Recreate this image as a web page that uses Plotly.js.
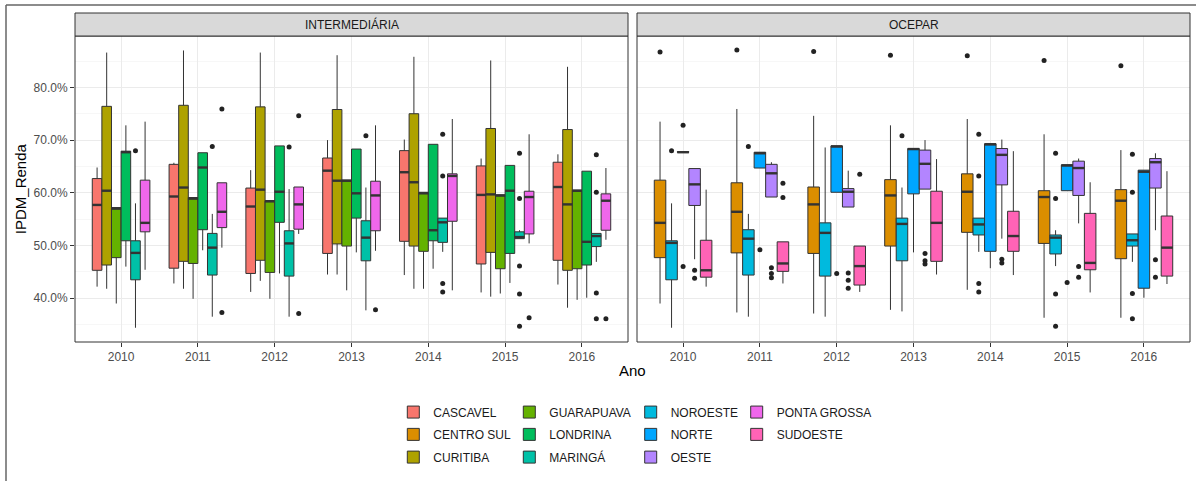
<!DOCTYPE html>
<html>
<head>
<meta charset="utf-8">
<script src="https://cdn.plot.ly/plotly-3.0.1.min.js"></script>
<style>html,body{margin:0;padding:0;background:#fff;}#chart{width:1196px;height:481px;}</style>
</head>
<body>
<div id="chart"></div>
<script>
// ---------- DATA (values in %) ----------
const years = ['2010','2011','2012','2013','2014','2015','2016'];
const facetNames = ['INTERMEDIÁRIA', 'OCEPAR'];
const leftRegions = ['CASCAVEL','CURITIBA','GUARAPUAVA','LONDRINA','MARINGÁ','PONTA GROSSA'];
const rightRegions = ['CENTRO SUL','NOROESTE','NORTE','OESTE','SUDOESTE'];
const legendOrder = ['CASCAVEL','CENTRO SUL','CURITIBA','GUARAPUAVA','LONDRINA','MARINGÁ','NOROESTE','NORTE','OESTE','PONTA GROSSA','SUDOESTE'];
const regionColors = ['#F8766D','#DB8E00','#AEA200','#64B200','#00BD5C','#00C1A7','#00BADE','#00A6FF','#B385FF','#EF67EB','#FF63B6'];
const yTickValues = [40, 50, 60, 70, 80];
const yMinorValues = [35, 45, 55, 65, 75, 85];

// per year: [lower whisker, Q1, median, Q3, upper whisker]
const CASCAVEL = [[42.2,45.3,57.7,62.7,64.8],[42.8,45.7,59.3,65.4,65.7],[41.2,44.7,57.4,60.9,64.3],[44.5,48.5,64.2,66.6,70.0],[44.4,50.8,63.9,68.0,70.1],[41.1,46.5,59.6,65.1,66.5],[42.6,47.2,61.1,65.8,67.3]];
const CASCAVEL_OUT = [[],[],[],[],[],[],[]];
const CURITIBA = [[41.8,46.3,60.4,76.4,86.6],[41.8,47.0,61.0,76.6,87.0],[43.3,47.2,60.6,76.3,86.6],[44.5,50.3,62.3,75.8,86.1],[41.8,49.9,62.0,75.0,85.8],[40.3,48.7,59.7,72.2,85.1],[38.2,45.3,57.8,72.0,83.9]];
const CURITIBA_OUT = [[],[],[],[],[],[],[]];
const GUARAPUAVA = [[39.0,47.7,57.0,57.2,57.2],[39.9,46.6,58.9,59.1,59.1],[39.9,44.9,58.4,58.5,58.5],[41.5,49.9,62.3,62.4,62.4],[41.8,48.9,59.9,60.1,60.1],[40.9,45.6,59.5,59.6,59.6],[39.7,45.6,60.4,60.5,60.5]];
const GUARAPUAVA_OUT = [[],[],[],[],[],[],[]];
const LONDRINA = [[46.0,50.9,67.7,67.9,72.8],[49.1,53.0,64.8,67.6,67.6],[44.7,54.4,60.2,68.9,68.9],[48.7,55.2,59.9,68.3,68.3],[45.6,50.9,52.9,69.2,69.2],[42.9,48.5,60.4,65.2,65.2],[40.1,46.3,50.7,64.1,64.1]];
const LONDRINA_OUT = [[],[],[],[],[],[],[]];
const MARINGA = [[34.4,43.5,48.6,50.9,58.0],[36.5,44.4,49.6,52.3,56.0],[36.5,44.2,50.4,52.8,60.7],[37.7,47.1,51.5,54.7,61.0],[48.8,50.6,54.4,55.2,55.2],[51.3,51.3,51.6,52.6,52.9],[46.9,49.8,51.8,52.3,52.3]];
const MARINGA_OUT = [[68.0],[68.8],[68.7],[70.8],[71.1,63.2,42.8,41.2],[67.5,58.9,46.1,40.8,34.7],[67.2,60.1,41.0,36.1]];
const PONTA_GROSSA = [[45.4,52.6,54.3,62.4,73.5],[49.6,53.4,56.4,61.9,61.9],[52.2,53.1,57.8,61.1,61.1],[49.0,52.8,59.5,62.2,72.8],[41.5,54.6,63.2,63.6,74.0],[50.4,52.2,59.2,60.3,71.1],[51.1,52.9,58.5,59.8,64.7]];
const PONTA_GROSSA_OUT = [[],[75.9,37.3],[74.6,37.1],[37.8],[],[36.3],[36.1]];

const CENTRO_SUL = [[39.0,47.7,54.3,62.4,73.5],[37.3,48.6,56.4,61.9,75.9],[37.1,48.5,57.8,61.1,74.6],[37.8,49.9,59.5,62.5,72.8],[41.6,52.5,60.2,63.6,74.0],[36.3,50.4,59.2,60.4,71.1],[36.3,47.5,58.5,60.6,68.1]];
const CENTRO_SUL_OUT = [[86.7],[87.1],[86.8],[86.1],[86.0],[85.1],[84.1]];
const NOROESTE = [[34.4,43.5,50.5,50.9,58.0],[36.5,44.4,51.3,53.0,56.0],[36.5,44.2,52.4,54.3,68.6],[37.5,47.1,54.1,55.2,61.0],[48.8,52.0,54.0,55.2,55.2],[46.1,48.4,51.5,52.0,52.9],[46.9,49.9,51.0,52.2,52.2]];
const NOROESTE_OUT = [[68.0],[68.8],[],[70.8],[71.1,63.2,42.8,41.2],[67.5,58.9,40.8,34.7],[67.3,60.1,40.9,36.1]];
const NORTE = [[67.7,67.7,67.7,67.8,67.8],[64.7,64.7,67.5,67.7,67.7],[60.1,60.1,68.8,68.9,68.9],[48.7,59.8,68.3,68.4,68.4],[45.7,48.9,69.2,69.3,69.3],[60.4,60.4,65.2,65.3,65.3],[40.1,41.9,64.0,64.3,64.3]];
const NORTE_OUT = [[72.8,46.0],[49.2],[44.7],[],[],[43.0],[]];
const OESTE = [[47.4,57.6,61.6,64.6,64.6],[59.2,59.2,63.7,65.4,65.8],[57.3,57.3,60.2,60.8,64.2],[60.7,60.7,65.5,68.1,70.0],[51.3,61.5,67.2,68.4,70.1],[54.2,59.5,64.7,66.0,66.5],[52.9,60.9,65.8,66.5,67.5]];
const OESTE_OUT = [[45.3,43.8],[45.8,44.7,43.9],[44.8,43.4,41.9],[48.5,47.1,46.5],[47.4,46.7],[46.0,44.0],[47.3,44.0]];
const SUDOESTE = [[42.2,44.0,45.3,51.0,60.6],[42.8,45.1,46.6,50.7,50.7],[41.2,42.5,46.1,49.9,49.9],[44.5,47.0,54.3,60.3,66.4],[44.4,48.9,51.8,56.5,67.9],[41.1,45.4,46.7,56.1,62.0],[42.7,44.2,49.6,55.6,64.1]];
const SUDOESTE_OUT = [[],[61.8,59.1],[63.5],[],[],[],[]];

// lookup tables built from the arrays above
const statsOf = {'CASCAVEL':CASCAVEL,'CURITIBA':CURITIBA,'GUARAPUAVA':GUARAPUAVA,'LONDRINA':LONDRINA,'MARINGÁ':MARINGA,'PONTA GROSSA':PONTA_GROSSA,
  'CENTRO SUL':CENTRO_SUL,'NOROESTE':NOROESTE,'NORTE':NORTE,'OESTE':OESTE,'SUDOESTE':SUDOESTE};
const outOf = {'CASCAVEL':CASCAVEL_OUT,'CURITIBA':CURITIBA_OUT,'GUARAPUAVA':GUARAPUAVA_OUT,'LONDRINA':LONDRINA_OUT,'MARINGÁ':MARINGA_OUT,'PONTA GROSSA':PONTA_GROSSA_OUT,
  'CENTRO SUL':CENTRO_SUL_OUT,'NOROESTE':NOROESTE_OUT,'NORTE':NORTE_OUT,'OESTE':OESTE_OUT,'SUDOESTE':SUDOESTE_OUT};

// ---------- LAYOUT GEOMETRY (pixels) ----------
const W = 1196, H = 481;
const mL = 75, mR = 6, mT = 13, mB = 139.3;
const plotW = W - mL - mR, plotH = H - mT - mB;
const panelTopPx = 36;
const yDomTop = (H - mB - panelTopPx) / plotH;
const px2x = p => (p - mL) / plotW;
const px2y = p => (H - mB - p) / plotH;
const FONT = 'Liberation Sans, Arial, Helvetica, sans-serif';

const traces = [];
const facets = [leftRegions, rightRegions];
facets.forEach((regions, f) => {
  const n = regions.length;
  const w = 0.75 / n;
  const xa = f === 0 ? 'x' : 'x2';
  regions.forEach((reg, i) => {
    const st = statsOf[reg];
    const off = (i - (n - 1) / 2) * w;
    const xs = years.map((_, yi) => yi + off);
    const k = legendOrder.indexOf(reg);
    const col = regionColors[k];
    traces.push({
      type: 'box', name: reg, x: xs,
      lowerfence: st.map(s => s[0]), q1: st.map(s => s[1]), median: st.map(s => s[2]),
      q3: st.map(s => s[3]), upperfence: st.map(s => s[4]),
      width: w, whiskerwidth: 0, boxpoints: false,
      fillcolor: col, line: {color: '#333333', width: 1},
      xaxis: xa, yaxis: 'y', hoverinfo: 'skip',
      legend: k === 0 ? 'legend' : 'legend' + (k + 1)
    });
    // thicker median segments
    const mx = [], my = [];
    st.forEach((s, yi) => { mx.push(xs[yi] - w / 2, xs[yi] + w / 2, null); my.push(s[2], s[2], null); });
    traces.push({type: 'scatter', mode: 'lines', x: mx, y: my, xaxis: xa, yaxis: 'y',
      line: {color: '#333333', width: 2.4}, showlegend: false, hoverinfo: 'skip'});
    // outliers
    const ox = [], oy = [];
    outOf[reg].forEach((arr, yi) => arr.forEach(v => { ox.push(xs[yi]); oy.push(v); }));
    if (ox.length) traces.push({type: 'scatter', mode: 'markers', x: ox, y: oy, xaxis: xa, yaxis: 'y',
      marker: {color: '#222222', size: 5}, showlegend: false, hoverinfo: 'skip'});
  });
});

const xCommon = {
  range: [-0.6, 6.6], tickmode: 'array', tickvals: years.map((_, i) => i), ticktext: years,
  showgrid: true, gridcolor: '#EBEBEB', gridwidth: 1.1, zeroline: false, showline: false,
  ticks: 'outside', ticklen: 4, tickcolor: '#333333', tickwidth: 1,
  tickfont: {family: FONT, size: 12, color: '#4D4D4D'}, anchor: 'y', fixedrange: true
};

const layout = {
  width: W, height: H, margin: {l: mL, r: mR, t: mT, b: mB, pad: 0},
  paper_bgcolor: '#ffffff', plot_bgcolor: '#ffffff',
  font: {family: FONT, color: '#1A1A1A'},
  boxmode: 'overlay', hovermode: false,
  xaxis: Object.assign({}, xCommon, {domain: [0, px2x(628)]}),
  xaxis2: Object.assign({}, xCommon, {domain: [px2x(637), 1]}),
  yaxis: {
    domain: [0, yDomTop], range: [31.7, 89.74], tickmode: 'array', tickvals: yTickValues,
    ticktext: yTickValues.map(v => v.toFixed(1) + '%'),
    showgrid: true, gridcolor: '#EBEBEB', gridwidth: 1.1, zeroline: false, showline: false,
    minor: {tickvals: yMinorValues, showgrid: true, gridcolor: '#F2F2F2', gridwidth: 0.6, ticks: ''},
    ticks: 'outside', ticklen: 4, tickcolor: '#333333', tickwidth: 1,
    tickfont: {family: FONT, size: 12, color: '#4D4D4D'}, fixedrange: true
  },
  shapes: [],
  annotations: []
};

['x', 'x2'].forEach((xa, f) => {
  layout.shapes.push({type: 'rect', xref: xa + ' domain', yref: 'y domain', x0: 0, x1: 1, y0: 0, y1: 1,
    line: {color: '#333333', width: 1}, fillcolor: 'rgba(0,0,0,0)', layer: 'above'});
  layout.shapes.push({type: 'rect', xref: xa + ' domain', yref: 'paper', x0: 0, x1: 1, y0: yDomTop, y1: 1,
    line: {color: '#333333', width: 1}, fillcolor: '#D9D9D9', layer: 'above'});
  layout.annotations.push({xref: xa + ' domain', yref: 'paper', x: 0.5, y: (yDomTop + 1) / 2,
    xanchor: 'center', yanchor: 'middle', showarrow: false, text: facetNames[f],
    font: {family: FONT, size: 12, color: '#1A1A1A'}});
});

// outer frame (left & top)
layout.shapes.push({type: 'line', xref: 'paper', yref: 'paper', x0: px2x(6), x1: px2x(6), y0: px2y(5), y1: px2y(490),
  line: {color: '#666666', width: 1.5}});
layout.shapes.push({type: 'line', xref: 'paper', yref: 'paper', x0: px2x(6), x1: px2x(1200), y0: px2y(5), y1: px2y(5),
  line: {color: '#666666', width: 1.5}});

// axis titles
layout.annotations.push({xref: 'paper', yref: 'paper', x: px2x(632.5), y: px2y(370), xanchor: 'center', yanchor: 'middle',
  showarrow: false, text: 'Ano', font: {family: FONT, size: 15, color: '#000000'}});
layout.annotations.push({xref: 'paper', yref: 'paper', x: px2x(20), y: px2y(189), xanchor: 'center', yanchor: 'middle',
  showarrow: false, text: 'IPDM_Renda', textangle: -90, font: {family: FONT, size: 15, color: '#000000'}});

// legends: one per entry, arranged column-major (3 rows x 4 columns)
const legColX = [413.3, 529.3, 650.7, 756.7];
const legRowY = [411.7, 434, 456.7];
legendOrder.forEach((reg, k) => {
  const id = k === 0 ? 'legend' : 'legend' + (k + 1);
  const c = Math.floor(k / 3), r = k % 3;
  layout[id] = {x: px2x(legColX[c] - 20), xanchor: 'left', y: px2y(legRowY[r]), yanchor: 'middle',
    orientation: 'v', bgcolor: 'rgba(0,0,0,0)', borderwidth: 0,
    font: {family: FONT, size: 12, color: '#1A1A1A'}};
});

Plotly.newPlot('chart', traces, layout, {displayModeBar: false, staticPlot: true});
</script>
</body>
</html>
